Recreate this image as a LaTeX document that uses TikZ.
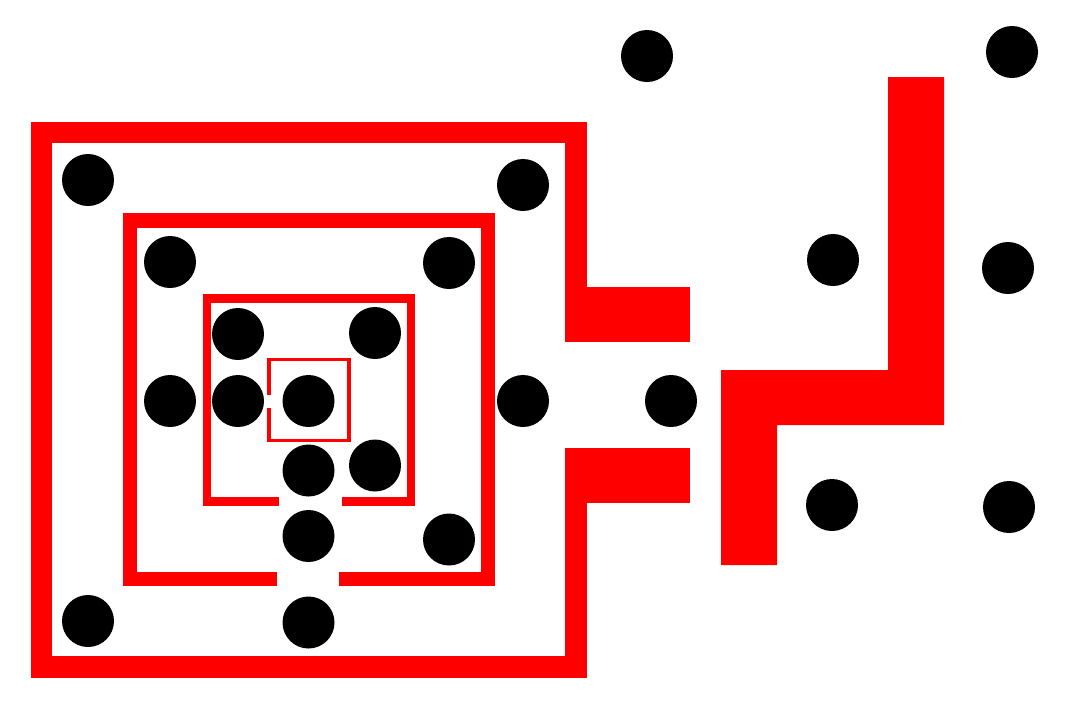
\documentclass[tikz,border=0pt]{standalone}
\begin{document}
\begin{tikzpicture}[x=1pt,y=-1pt,
  dot/.style={circle,fill=black,inner sep=0pt,minimum size=52pt},
  wall/.style={draw=red,line join=miter,line cap=butt}]
\useasboundingbox (0,0) rectangle (1066,710);
% outer wall
\draw[wall,line width=21.5pt] (576,342) -- (576,132.5) -- (41.5,132.5) -- (41.5,667) -- (576,667) -- (576,448);
\fill[red] (565,287) rectangle (690,342);
\fill[red] (565,448) rectangle (690,503);
% middle wall
\draw[wall,line width=14.5pt] (276.5,579) -- (130,579) -- (130,220.5) -- (488,220.5) -- (488,579) -- (339,579);
% third wall
\draw[wall,line width=8.5pt] (279,501.5) -- (207,501.5) -- (207,298.5) -- (411,298.5) -- (411,501.5) -- (341.5,501.5);
% innermost wall
\draw[wall,line width=3.6pt] (268.7,394.7) -- (268.7,359.5) -- (349,359.5) -- (349,440.5) -- (268.7,440.5) -- (268.7,408);
% right shape
\fill[red] (888,77) -- (944,77) -- (944,425) -- (777,425) -- (777,565) -- (721,565) -- (721,370) -- (888,370) -- cycle;
% dots
\node[dot] (d1) at (88,180) {};
\node[dot] (d2) at (523,185) {};
\node[dot] (d3) at (170,262) {};
\node[dot] (d4) at (449,263) {};
\node[dot] (d5) at (238,334) {};
\node[dot] (d6) at (375,333) {};
\node[dot] (d7) at (170,401) {};
\node[dot] (d8) at (238,401) {};
\node[dot] (d9) at (308.5,401) {};
\node[dot] (d10) at (523,401) {};
\node[dot] (d11) at (308.5,470.5) {};
\node[dot] (d12) at (375,465.5) {};
\node[dot] (d13) at (308.5,536) {};
\node[dot] (d14) at (449,539.5) {};
\node[dot] (d15) at (88,621) {};
\node[dot] (d16) at (308.5,622.5) {};
\node[dot] (d17) at (647,56) {};
\node[dot] (d18) at (1012,52) {};
\node[dot] (d19) at (671,401) {};
\node[dot] (d20) at (833,260) {};
\node[dot] (d21) at (1008,268) {};
\node[dot] (d22) at (832,505) {};
\node[dot] (d23) at (1009,507) {};
\end{tikzpicture}
\end{document}
